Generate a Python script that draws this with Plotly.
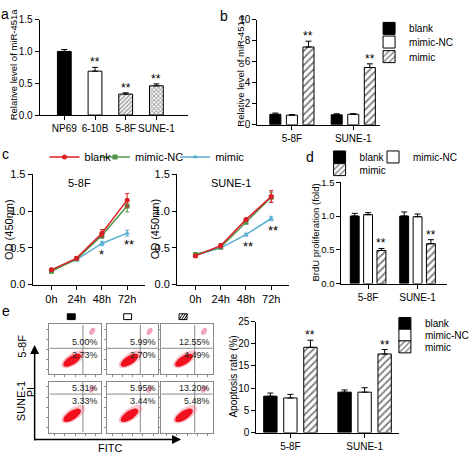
import math
import plotly.graph_objects as go

W, H = 474, 460
FONT = "Liberation Sans, Arial, sans-serif"

# ---------------- data ----------------
a_cats = ["NP69", "6-10B", "5-8F", "SUNE-1"]
a_vals = [1.00, 0.69, 0.33, 0.46]
a_errs = [0.03, 0.06, 0.02, 0.03]
a_sig = ["", "**", "**", "**"]

groups = ["blank", "mimic-NC", "mimic"]
cells = ["5-8F", "SUNE-1"]

b_vals = {"blank": [1.00, 0.95], "mimic-NC": [0.92, 1.00], "mimic": [7.40, 5.45]}
b_errs = {"blank": [0.12, 0.10], "mimic-NC": [0.06, 0.06], "mimic": [0.55, 0.35]}
b_sig = ["**", "**"]

times = ["0h", "24h", "48h", "72h"]
c_58f = {"blank": [0.20, 0.36, 0.70, 1.15],
         "mimic-NC": [0.18, 0.35, 0.67, 1.07],
         "mimic": [0.20, 0.34, 0.56, 0.70]}
c_58f_err = {"blank": [0.02, 0.02, 0.05, 0.09],
             "mimic-NC": [0.02, 0.02, 0.04, 0.08],
             "mimic": [0.02, 0.02, 0.03, 0.04]}
c_sune = {"blank": [0.39, 0.53, 0.885, 1.20],
          "mimic-NC": [0.41, 0.51, 0.85, 1.19],
          "mimic": [0.40, 0.50, 0.68, 0.90]}
c_sune_err = {"blank": [0.02, 0.03, 0.02, 0.08],
              "mimic-NC": [0.02, 0.02, 0.02, 0.07],
              "mimic": [0.02, 0.02, 0.02, 0.03]}
c_58f_sig = {"48h": "*", "72h": "**"}
c_sune_sig = {"48h": "**", "72h": "**"}

d_vals = {"blank": [1.00, 1.00], "mimic-NC": [1.02, 0.99], "mimic": [0.49, 0.59]}
d_errs = {"blank": [0.04, 0.06], "mimic-NC": [0.03, 0.04], "mimic": [0.03, 0.06]}
d_sig = ["**", "**"]

e_vals = {"blank": [8.2, 9.1], "mimic-NC": [7.8, 9.1], "mimic": [19.2, 17.7]}
e_errs = {"blank": [0.7, 0.5], "mimic-NC": [0.8, 1.0], "mimic": [1.6, 1.0]}
e_sig = ["**", "**"]

# flow cytometry quadrant percentages (upper-right, lower-right)
flow_ur = [["5.00%", "5.99%", "12.55%"], ["5.31%", "5.95%", "13.20%"]]
flow_lr = [["2.73%", "2.70%", "4.49%"], ["3.33%", "3.44%", "5.48%"]]

# ---------------- helpers ----------------
def dx(l, r):
    return [l / W, r / W]

def dy(top, bot):
    return [1 - bot / H, 1 - top / H]

def px(x):
    return x / W

def py(y):
    return 1 - y / H

line_colors = {"blank": "#dc1f26", "mimic-NC": "#4f9448", "mimic": "#5aaed0"}
line_symbols = {"blank": "circle", "mimic-NC": "square", "mimic": "triangle-up"}

def bar_marker(g):
    if g == "blank":
        return dict(color="black", line=dict(color="black", width=1))
    if g == "mimic-NC":
        return dict(color="white", line=dict(color="black", width=1))
    return dict(color="white", line=dict(color="black", width=1),
                pattern=dict(shape="/", fgcolor="black", bgcolor="white", size=5, solidity=0.35))

axis_common = dict(showline=True, linecolor="black", linewidth=1, ticks="outside",
                   ticklen=4, tickwidth=1, tickcolor="black", showgrid=False,
                   zeroline=False, tickfont=dict(size=10, family=FONT, color="black"),
                   fixedrange=True, tickangle=0)

fig = go.Figure()
layout = dict(width=W, height=H, margin=dict(l=0, r=0, t=0, b=0), autosize=False,
              paper_bgcolor="white", plot_bgcolor="white", barmode="overlay",
              font=dict(family=FONT, color="black", size=10))
annotations = []
shapes = []

def add_axes(n, xdom, ydom, xrange, yrange, xtickvals=None, xticktext=None,
             ytickvals=None, xfont=10, yfont=10):
    xname = "xaxis" if n == 1 else "xaxis%d" % n
    yname = "yaxis" if n == 1 else "yaxis%d" % n
    xa = dict(axis_common)
    xa.update(domain=xdom, range=xrange, anchor="y" if n == 1 else "y%d" % n)
    xa["tickfont"] = dict(size=xfont, family=FONT, color="black")
    if xtickvals is not None:
        xa.update(tickmode="array", tickvals=xtickvals, ticktext=xticktext)
    ya = dict(axis_common)
    ya.update(domain=ydom, range=yrange, anchor="x" if n == 1 else "x%d" % n)
    ya["tickfont"] = dict(size=yfont, family=FONT, color="black")
    if ytickvals is not None:
        ya.update(tickmode="array", tickvals=ytickvals)
    layout[xname] = xa
    layout[yname] = ya

def ref(n):
    return ("x" if n == 1 else "x%d" % n), ("y" if n == 1 else "y%d" % n)

def ytitle(text, x, y, size=10):
    annotations.append(dict(text=text, x=px(x), y=py(y), xref="paper", yref="paper",
                            showarrow=False, textangle=-90, font=dict(size=size, family=FONT),
                            xanchor="center", yanchor="middle"))

def label(text, x, y, size=14, angle=0):
    annotations.append(dict(text=text, x=px(x), y=py(y), xref="paper", yref="paper",
                            showarrow=False, textangle=angle, font=dict(size=size, family=FONT),
                            xanchor="center", yanchor="middle"))

def legend_box(name, x_text, y, size=10):
    layout[name] = dict(x=px(x_text - 40), y=py(y), xanchor="left", yanchor="middle",
                        bgcolor="rgba(0,0,0,0)", borderwidth=0,
                        font=dict(size=size, family=FONT, color="black"),
                        itemwidth=30, orientation="v")

# ---------------- panel a ----------------
add_axes(1, dx(40, 190), dy(14, 112), [-0.806, 4.03], [0, 1.5],
         xtickvals=list(range(len(a_cats))), xticktext=a_cats, ytickvals=[0, 0.5, 1.0, 1.5])
layout["yaxis"]["tickformat"] = ".1f"
fig.add_trace(go.Bar(
    x=list(range(len(a_cats))), y=a_vals, width=0.45, xaxis="x", yaxis="y",
    marker=dict(color=["black", "white", "white", "white"], line=dict(color="black", width=1),
                pattern=dict(shape=["", "", "/", "x"], fgcolor="black", bgcolor="white",
                             size=3, solidity=0.5)),
    error_y=dict(type="data", array=a_errs, arrayminus=[0] * 4, symmetric=False,
                 color="black", thickness=1, width=3),
    showlegend=False))
for i, s in enumerate(a_sig):
    if s:
        annotations.append(dict(text=s, x=i, y=a_vals[i] + a_errs[i], xref="x", yref="y",
                                showarrow=False, yanchor="bottom", yshift=-4,
                                font=dict(size=12, family=FONT)))
ytitle("Relative level of miR-451a", 14, 60, size=9.5)
label("a", 5, 8)

# ---------------- grouped bar panels b, d, e ----------------
OFF = 0.27
BW = 0.18

def grouped(n, vals, errs, sig, legends, showleg=True):
    xr, yr = ref(n)
    for k, g in enumerate(groups):
        fig.add_trace(go.Bar(
            x=[i + (k - 1) * OFF for i in range(len(cells))], y=vals[g], width=BW,
            name=g, xaxis=xr, yaxis=yr, marker=bar_marker(g),
            error_y=dict(type="data", array=errs[g], arrayminus=[0] * len(cells),
                         symmetric=False, color="black", thickness=1, width=3),
            legend=legends[k], showlegend=showleg))
    for i, s in enumerate(sig):
        annotations.append(dict(text=s, x=i + OFF, y=vals["mimic"][i] + errs["mimic"][i],
                                xref=xr, yref=yr, showarrow=False, yanchor="bottom",
                                yshift=-4, font=dict(size=12, family=FONT)))

# b
add_axes(2, dx(260, 384), dy(14, 122), [-0.565, 1.435], [0, 10],
         xtickvals=[0, 1], xticktext=cells, ytickvals=[0, 2, 4, 6, 8, 10])
grouped(2, b_vals, b_errs, b_sig, ["legend", "legend2", "legend3"])
legend_box("legend", 413, 23)
legend_box("legend2", 413, 37)
legend_box("legend3", 413, 52)
ytitle("Relative level of miR-451a", 243, 66, size=9.5)
label("b", 226, 10)

# d
add_axes(5, dx(345, 452), dy(181, 285), [-0.54, 1.6], [0, 1.5],
         xtickvals=[0, 1], xticktext=cells, ytickvals=[0, 0.5, 1.0, 1.5], yfont=9.5)
layout["yaxis5"]["tickformat"] = ".1f"
grouped(5, d_vals, d_errs, d_sig, ["legend7", "legend8", "legend9"])
legend_box("legend7", 363, 155)
legend_box("legend8", 417, 155)
legend_box("legend9", 363, 168)
ytitle("BrdU proliferation (fold)", 319, 233, size=9.5)
label("d", 313, 155)

# e (bar part)
add_axes(6, dx(259, 403), dy(324, 438), [-0.46, 1.46], [0, 25],
         xtickvals=[0, 1], xticktext=cells, ytickvals=[0, 5, 10, 15, 20, 25])
grouped(6, e_vals, e_errs, e_sig, ["legend10", "legend11", "legend12"])
legend_box("legend10", 429, 326)
legend_box("legend11", 429, 338)
legend_box("legend12", 429, 350)
ytitle("Apoptosis rate (%)", 236, 381)

# ---------------- panel c ----------------
add_axes(3, dx(33, 147), dy(173, 286), [-0.745, 3.725], [0, 1.5],
         xtickvals=[0, 1, 2, 3], xticktext=times, ytickvals=[0, 0.5, 1.0, 1.5], xfont=11, yfont=11)
add_axes(4, dx(179, 292), dy(173, 286), [-0.725, 3.7], [0, 1.5],
         xtickvals=[0, 1, 2, 3], xticktext=times, ytickvals=[0, 0.5, 1.0, 1.5], xfont=11, yfont=11)
layout["yaxis3"]["tickformat"] = ".1f"
layout["yaxis4"]["tickformat"] = ".1f"
c_legends = {"blank": "legend4", "mimic-NC": "legend5", "mimic": "legend6"}
for n, data, err, showleg in [(3, c_58f, c_58f_err, True), (4, c_sune, c_sune_err, False)]:
    xr, yr = ref(n)
    for g in ["mimic", "mimic-NC", "blank"]:
        fig.add_trace(go.Scatter(
            x=list(range(len(times))), y=data[g], xaxis=xr, yaxis=yr, name=g,
            mode="lines+markers", line=dict(color=line_colors[g], width=1.5),
            marker=dict(color=line_colors[g], symbol=line_symbols[g], size=5),
            error_y=dict(type="data", array=err[g], color=line_colors[g], thickness=1, width=2),
            legend=c_legends[g], showlegend=showleg))
legend_box("legend4", 85, 155, size=11)
legend_box("legend5", 136, 155, size=11)
legend_box("legend6", 217, 155, size=11)
for n, sig, data in [(3, c_58f_sig, c_58f), (4, c_sune_sig, c_sune)]:
    xr, yr = ref(n)
    for t, s in sig.items():
        i = times.index(t)
        annotations.append(dict(text=s, x=i, y=data["mimic"][i], xref=xr, yref=yr,
                                showarrow=False, yanchor="top", yshift=-2, xshift=2 if s == "**" else 0,
                                font=dict(size=13, family=FONT)))
annotations.append(dict(text="5-8F", x=1.1, y=1.38, xref="x3", yref="y3", showarrow=False,
                        font=dict(size=11, family=FONT)))
annotations.append(dict(text="SUNE-1", x=1.4, y=1.38, xref="x4", yref="y4", showarrow=False,
                        font=dict(size=11, family=FONT)))
ytitle("OD (450nm)", 9, 229, size=11)
ytitle("OD (450nm)", 157, 229, size=11)
label("c", 6, 152)

# ---------------- panel e flow cytometry ----------------
label("e", 6, 313)
cols_px = [(50, 102), (108, 160), (163, 215)]
rows_px = [(327, 378), (386, 438)]
gate_y = [0.52, 0.76]
gate_x = 0.65

def ellipse_path(cx, cy, rx, ry, ang):
    pts = []
    for j in range(24):
        t = 2 * math.pi * j / 24
        x0, y0 = rx * math.cos(t), ry * math.sin(t)
        ca, sa = math.cos(ang), math.sin(ang)
        pts.append((cx + x0 * ca - y0 * sa, cy + x0 * sa + y0 * ca))
    return "M" + " L".join("%.3f,%.3f" % p for p in pts) + " Z"

n = 7
for r, (top, bot) in enumerate(rows_px):
    for c, (l, rr) in enumerate(cols_px):
        xname, yname = "xaxis%d" % n, "yaxis%d" % n
        layout[xname] = dict(domain=dx(l, rr), range=[0, 1], anchor="y%d" % n, showline=True,
                             mirror=True, linecolor="#8a8a8a", linewidth=1, ticks="outside",
                             ticklen=2, tickcolor="#8a8a8a", tickvals=[0.1, 0.3, 0.5, 0.7, 0.9],
                             showticklabels=False, showgrid=False, zeroline=False, fixedrange=True)
        layout[yname] = dict(domain=dy(top, bot), range=[0, 1], anchor="x%d" % n, showline=True,
                             mirror=True, linecolor="#8a8a8a", linewidth=1, ticks="outside",
                             ticklen=2, tickcolor="#8a8a8a", tickvals=[0.1, 0.3, 0.5, 0.7, 0.9],
                             showticklabels=False, showgrid=False, zeroline=False, fixedrange=True)
        xr, yr = "x%d" % n, "y%d" % n
        gy = gate_y[r]
        shapes.append(dict(type="line", xref=xr, yref=yr, x0=gate_x, x1=gate_x, y0=0, y1=1,
                           line=dict(color="#8a8a8a", width=1)))
        shapes.append(dict(type="line", xref=xr, yref=yr, x0=0, x1=1, y0=gy, y1=gy,
                           line=dict(color="#8a8a8a", width=1)))
        cy = 0.30 if r == 0 else 0.36
        shapes.append(dict(type="path", xref=xr, yref=yr,
                           path=ellipse_path(0.46, cy, 0.27, 0.12, 0.6),
                           fillcolor="rgba(240,90,110,0.35)", line=dict(width=0)))
        shapes.append(dict(type="path", xref=xr, yref=yr,
                           path=ellipse_path(0.44, cy - 0.02, 0.2, 0.085, 0.6),
                           fillcolor="#f0101e", line=dict(width=0)))
        shapes.append(dict(type="path", xref=xr, yref=yr,
                           path=ellipse_path(0.83, 0.86, 0.08, 0.05, 1.0),
                           fillcolor="rgba(230,90,130,0.55)", line=dict(width=0)))
        annotations.append(dict(text=flow_ur[r][c], x=0.99, y=gy, xref=xr, yref=yr,
                                showarrow=False, xanchor="right", yanchor="bottom", yshift=-1,
                                font=dict(size=9, family=FONT, color="#222")))
        annotations.append(dict(text=flow_lr[r][c], x=0.99, y=gy, xref=xr, yref=yr,
                                showarrow=False, xanchor="right", yanchor="top", yshift=0,
                                font=dict(size=9, family=FONT, color="#222")))
        n += 1

# group icons above flow columns
shapes.append(dict(type="rect", xref="paper", yref="paper", x0=px(68), x1=px(76), y0=py(322), y1=py(316),
                   fillcolor="black", line=dict(color="black", width=1)))
shapes.append(dict(type="rect", xref="paper", yref="paper", x0=px(125), x1=px(133), y0=py(322), y1=py(316),
                   fillcolor="white", line=dict(color="black", width=1)))
shapes.append(dict(type="rect", xref="paper", yref="paper", x0=px(181), x1=px(189), y0=py(322), y1=py(316),
                   fillcolor="white", line=dict(color="black", width=1)))
for k in range(3):
    x0 = 181 + 2.5 * k
    shapes.append(dict(type="line", xref="paper", yref="paper", x0=px(x0), x1=px(x0 + 4),
                       y0=py(322), y1=py(316), line=dict(color="black", width=1)))

# axes arrows
annotations.append(dict(x=px(35), y=py(348), xref="paper", yref="paper", ax=0, ay=97,
                        showarrow=True, arrowhead=2, arrowsize=1.2, arrowwidth=1.5,
                        arrowcolor="black", text=""))
annotations.append(dict(x=px(183), y=py(445), xref="paper", yref="paper", ax=-148, ay=0,
                        showarrow=True, arrowhead=2, arrowsize=1.2, arrowwidth=1.5,
                        arrowcolor="black", text=""))
label("5-8F", 22, 349, size=11, angle=-90)
label("SUNE-1", 22, 406, size=11, angle=-90)
label("PI", 31, 397, size=11, angle=-90)
label("FITC", 111, 454, size=11)

layout["annotations"] = annotations
layout["shapes"] = shapes
fig.update_layout(**layout)
fig.write_html("out.html", config={"displayModeBar": False},
               post_script="document.body.style.margin='0';document.body.style.padding='0';")
